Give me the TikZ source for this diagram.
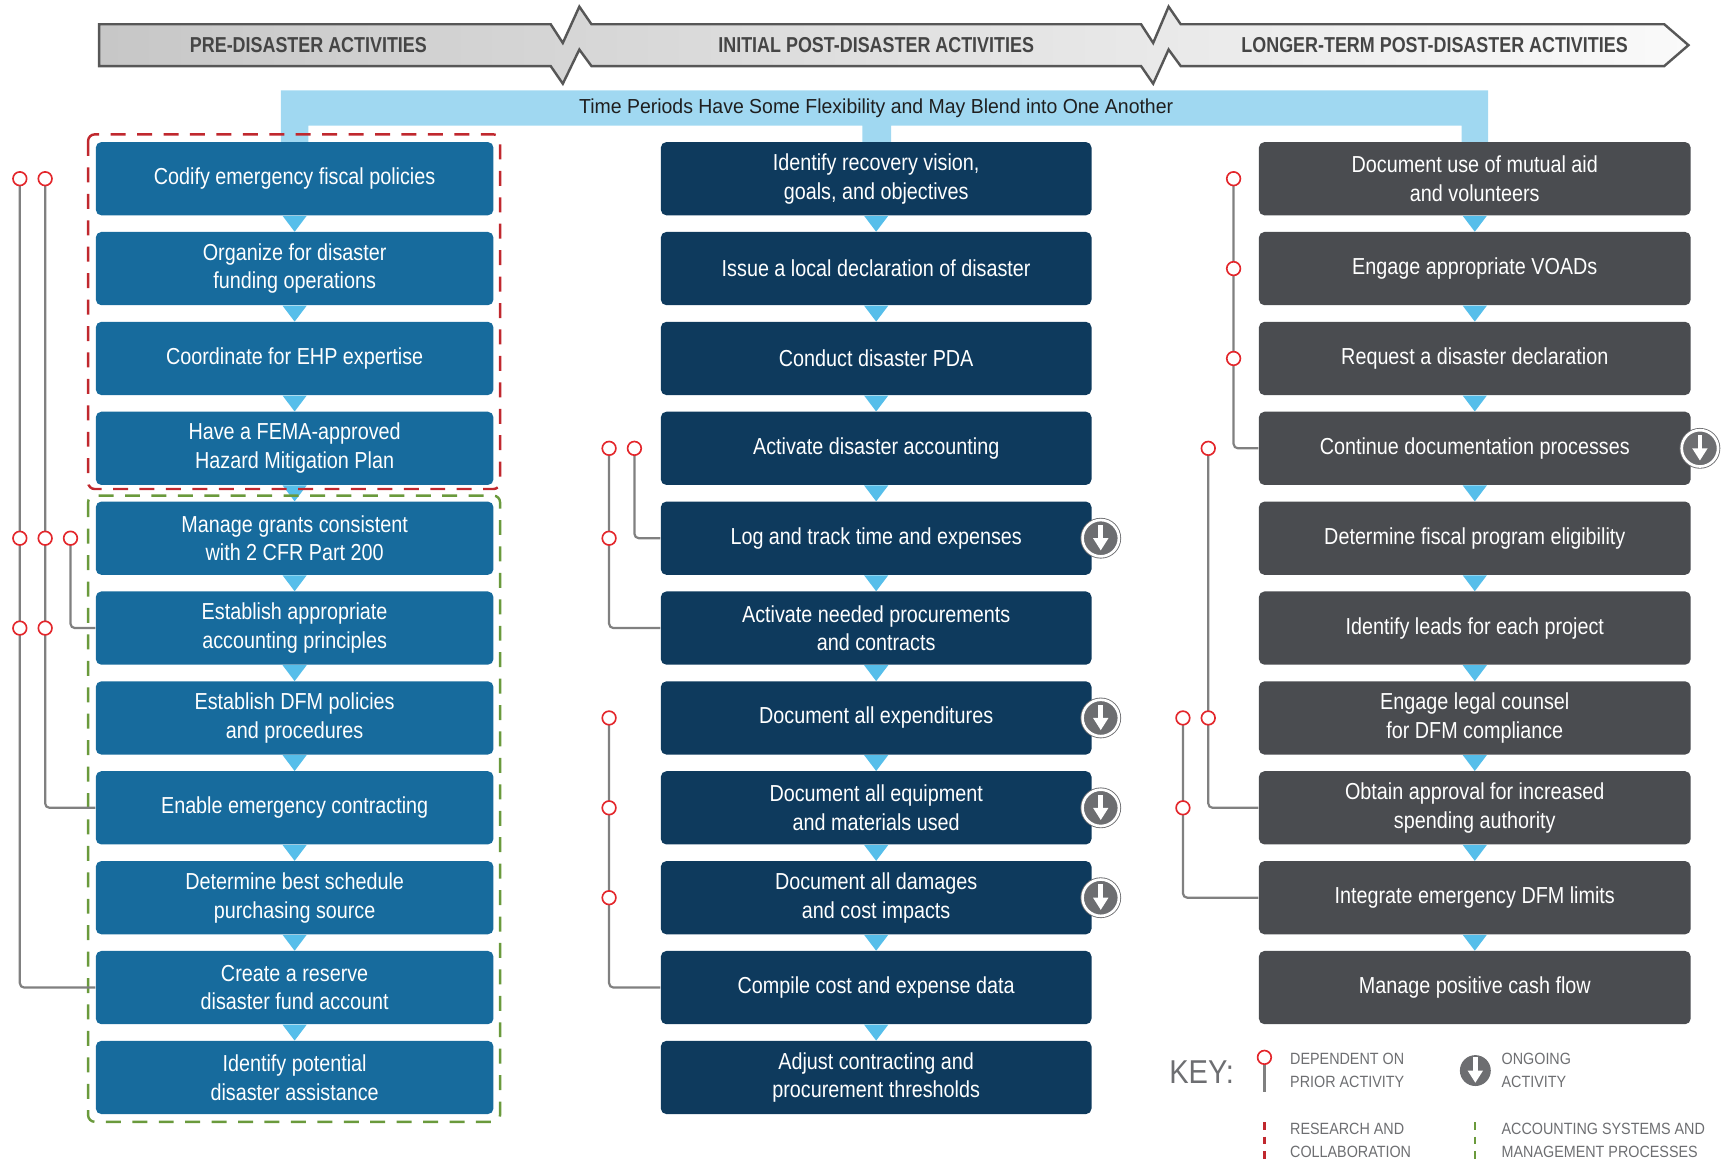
\documentclass[tikz,border=0pt]{standalone}
\usepackage{fontspec}
\setmainfont{Liberation Sans}
\newfontfamily\boxfont{Liberation Sans}[FakeStretch=0.855]
\newfontfamily\headfont{Liberation Sans}[FakeStretch=0.83]
\newfontfamily\bandfont{Liberation Sans}[FakeStretch=0.96]
\newfontfamily\keyfont{Liberation Sans}[FakeStretch=0.88]
\usetikzlibrary{calc}
\definecolor{lblue}{HTML}{176B9D}
\definecolor{navy}{HTML}{0E3A5D}
\definecolor{dgray}{HTML}{4A4C50}
\definecolor{tric}{HTML}{56BEEA}
\definecolor{bandc}{HTML}{A0D8F1}
\definecolor{depred}{HTML}{E3262B}
\definecolor{dashred}{HTML}{C0282E}
\definecolor{dashgreen}{HTML}{6A9A3C}
\definecolor{depgray}{HTML}{808080}
\definecolor{hdrline}{HTML}{575757}
\definecolor{hdrtext}{HTML}{454545}
\definecolor{icongray}{HTML}{6D6E71}
\definecolor{keytext}{HTML}{6D6E71}
\begin{document}
\begin{tikzpicture}[x=0.5pt,y=-0.5pt,
 abox/.style={rounded corners=2.5pt, minimum height=33.25pt, inner sep=0pt, align=center, text=white, font=\boxfont\fontsize{10.5}{13}\selectfont},
 lbox/.style={abox, fill=lblue, minimum width=180.5pt},
 mbox/.style={abox, fill=navy, minimum width=195.5pt},
 rbox/.style={abox, fill=dgray, minimum width=196pt},
 hdr/.style={text=hdrtext, font=\headfont\bfseries\fontsize{9.8}{12}\selectfont, inner sep=0pt},
 tri/.style={fill=tric},
 depline/.style={draw=depgray, line width=1pt, rounded corners=2pt},
 dep/.style={circle, draw=depred, fill=white, line width=0.75pt, minimum size=6.2pt, inner sep=0pt},
 ongoing/.style={circle, fill=icongray, minimum size=#1*16.5pt, inner sep=0pt,
   path picture={\begin{scope}[shift={(path picture bounding box.center)}, scale=#1]
     \fill[white] (-2.2,-12) rectangle (2.2,1);
     \fill[white] (-7,0) -- (7,0) -- (0,11) -- cycle;
   \end{scope}}},
 ongoing/.default=1,
 ring/.style={draw=icongray, double=white, double distance=1.2pt, line width=0.4pt},
 keytxt/.style={text=keytext, font=\keyfont\fontsize{7.4}{10.5}\selectfont, align=left, anchor=west, inner sep=0pt},
 grp/.style={line width=1.1pt, rounded corners=3pt, dash pattern=on 6.8pt off 5.2pt},
 kdash/.style={line width=1pt, dash pattern=on 3.5pt off 3pt}
]
\useasboundingbox (0,0) rectangle (1568,1055);

% header arrow band
\draw[draw=hdrline, line width=1.1pt, left color=black!22, right color=black!2]
 (90,22) -- (500,22) -- (511,39) -- (526,6) -- (537,22) -- (1036,22) -- (1047,39) -- (1061,6) -- (1072,22)
 -- (1511,22) -- (1533,41) -- (1511,60) -- (1072,60) -- (1061,45) -- (1047,76) -- (1036,60)
 -- (537,60) -- (526,45) -- (511,76) -- (500,60) -- (90,60) -- cycle;
\node[hdr] (h1) at (280,41) {PRE-DISASTER ACTIVITIES};
\node[hdr] (h2) at (795.5,41) {INITIAL POST-DISASTER ACTIVITIES};
\node[hdr] (h3) at (1302.5,41) {LONGER-TERM POST-DISASTER ACTIVITIES};

% time band
\fill[bandc] (255,129) -- (255,82) -- (1351,82) -- (1351,129) -- (1327,129) -- (1327,114) -- (809,114)
 -- (809,129) -- (783,129) -- (783,114) -- (280,114) -- (280,129) -- cycle;
\node[inner sep=0pt, text={black!88}, font=\bandfont\fontsize{9.2}{11}\selectfont] (band) at (795.5,98.5)
 {Time Periods Have Some Flexibility and May Blend into One Another};

% boxes
\foreach \t [count=\i from 0] in {
 {Codify emergency fiscal policies},
 {Organize for disaster\\funding operations},
 {Coordinate for EHP expertise},
 {Have a FEMA-approved\\Hazard Mitigation Plan},
 {Manage grants consistent\\with 2 CFR Part 200},
 {Establish appropriate\\accounting principles},
 {Establish DFM policies\\and procedures},
 {Enable emergency contracting},
 {Determine best schedule\\purchasing source},
 {Create a reserve\\disaster fund account},
 {Identify potential\\disaster assistance}}
 \node[lbox] (L\i) at (267.5,{162.25+81.6*\i}) {\t};
\foreach \t [count=\i from 0] in {
 {Identify recovery vision,\\goals, and objectives},
 {Issue a local declaration of disaster},
 {Conduct disaster PDA},
 {Activate disaster accounting},
 {Log and track time and expenses},
 {Activate needed procurements\\and contracts},
 {Document all expenditures},
 {Document all equipment\\and materials used},
 {Document all damages\\and cost impacts},
 {Compile cost and expense data},
 {Adjust contracting and\\procurement thresholds}}
 \node[mbox] (M\i) at (795.5,{162.25+81.6*\i}) {\t};
\foreach \t [count=\i from 0] in {
 {Document use of mutual aid\\and volunteers},
 {Engage appropriate VOADs},
 {Request a disaster declaration},
 {Continue documentation processes},
 {Determine fiscal program eligibility},
 {Identify leads for each project},
 {Engage legal counsel\\for DFM compliance},
 {Obtain approval for increased\\spending authority},
 {Integrate emergency DFM limits},
 {Manage positive cash flow}}
 \node[rbox] (R\i) at (1339,{162.25+81.6*\i}) {\t};

% flow triangles
\foreach \c/\n in {L/9,M/9,R/8}{
 \foreach \i in {0,...,\n}{
  \fill[tri] ($(\c\i.south)+(-11,0)$) -- ($(\c\i.south)+(11,0)$) -- ($(\c\i.south)+(0,14.5)$) -- cycle;
 }}

% group outlines
\draw[grp, draw=dashred] (80,122) rectangle (454,444);
\draw[grp, draw=dashgreen] (80,450) rectangle (454,1018.5);

% dependency lines
\coordinate (a1) at (18,162.25);
\coordinate (a2) at (18,488.65);
\coordinate (a3) at (18,570.25);
\coordinate (b1) at (41,162.25);
\coordinate (b2) at (41,488.65);
\coordinate (b3) at (41,570.25);
\coordinate (c1) at (64,488.65);
\coordinate (d1) at (553,407.05);
\coordinate (d2) at (553,488.65);
\coordinate (e1) at (576,407.05);
\coordinate (f1) at (553,651.85);
\coordinate (f2) at (553,733.45);
\coordinate (f3) at (553,815.05);
\coordinate (g1) at (1120,162.25);
\coordinate (g2) at (1120,243.85);
\coordinate (g3) at (1120,325.45);
\coordinate (k1) at (1097,407.05);
\coordinate (k2) at (1097,651.85);
\coordinate (m1) at (1074,651.85);
\coordinate (m2) at (1074,733.45);
\draw[depline] (a1) |- (L9.west);
\draw[depline] (b1) |- (L7.west);
\draw[depline] (c1) |- (L5.west);
\draw[depline] (d1) |- (M5.west);
\draw[depline] (e1) |- (M4.west);
\draw[depline] (f1) |- (M9.west);
\draw[depline] (g1) |- (R3.west);
\draw[depline] (k1) |- (R7.west);
\draw[depline] (m1) |- (R8.west);
\foreach \p in {a1,a2,a3,b1,b2,b3,c1,d1,d2,e1,f1,f2,f3,g1,g2,g3,k1,k2,m1,m2}
 \node[dep] (dot\p) at (\p) {};

% ongoing icons
\node[ongoing, ring] (o1) at ($(M4.east)+(8,0)$) {};
\node[ongoing, ring] (o2) at ($(M6.east)+(8,0)$) {};
\node[ongoing, ring] (o3) at ($(M7.east)+(8,0)$) {};
\node[ongoing, ring] (o4) at ($(M8.east)+(8,0)$) {};
\node[ongoing, ring] (o5) at ($(R3.east)+(8,0)$) {};

% key
\node[inner sep=0pt, text=keytext, font=\keyfont\fontsize{15}{18}\selectfont] (key) at (1091,973) {KEY:};
\coordinate (kpin) at (1148,960);
\coordinate (kpinend) at (1148,991);
\draw[depline] (kpin) -- (kpinend);
\node[dep] (kdot) at (kpin) {};
\node[keytxt] (kt1) at (1171,971.5) {DEPENDENT ON\\PRIOR ACTIVITY};
\node[ongoing=0.85] (kicon) at (1339.5,972) {};
\node[keytxt] (kt2) at (1363,971.5) {ONGOING\\ACTIVITY};
\coordinate (kr1) at (1148,1019);
\coordinate (kr2) at (1148,1053);
\coordinate (kg1) at (1339.5,1019);
\coordinate (kg2) at (1339.5,1053);
\draw[kdash, draw=dashred] (kr1) -- (kr2);
\draw[kdash, draw=dashgreen] (kg1) -- (kg2);
\node[keytxt] (kt3) at (1171,1035.5) {RESEARCH AND\\COLLABORATION};
\node[keytxt] (kt4) at (1363,1035.5) {ACCOUNTING SYSTEMS AND\\MANAGEMENT PROCESSES};
\end{tikzpicture}
\end{document}
